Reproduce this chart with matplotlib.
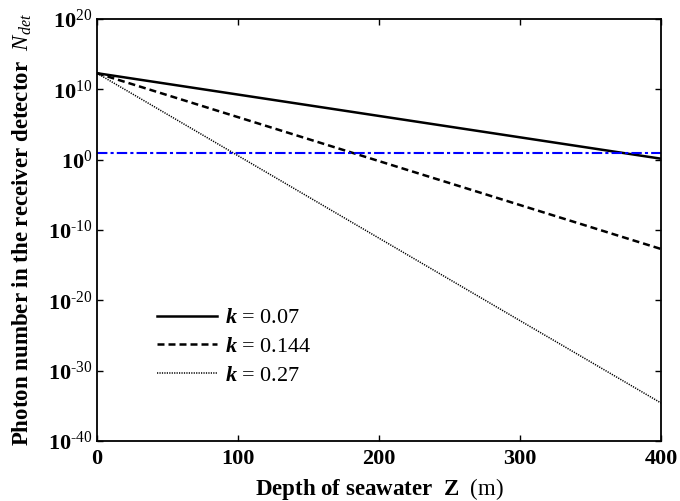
import matplotlib
matplotlib.use("Agg")
import matplotlib.pyplot as plt
from matplotlib.ticker import FixedLocator, FuncFormatter, NullLocator
import numpy as np

plt.rcParams['font.family'] = ['Liberation Serif', 'DejaVu Serif']
plt.rcParams['mathtext.fontset'] = 'custom'
plt.rcParams['mathtext.rm'] = 'Liberation Serif'
plt.rcParams['mathtext.it'] = 'Liberation Serif:italic'
plt.rcParams['mathtext.bf'] = 'Liberation Serif:bold'
plt.rcParams['mathtext.bfit'] = 'Liberation Serif:bold:italic'

# Data (depth in m, log10 of photon number)
depth = [0, 100, 200, 300, 400]
log_n_k007 = [12.3, 9.26, 6.22, 3.18, 0.14]
log_n_k0144 = [12.3, 6.05, -0.2, -6.45, -12.7]
log_n_k027 = [12.3, 0.57, -11.16, -22.89, -34.6]
threshold_log = 1.0
k_labels = ['0.07', '0.144', '0.27']

fig = plt.figure(figsize=(6.8, 5.01), dpi=100)
ax = fig.add_axes([0.1426, 0.1198, 0.9721 - 0.1426, 0.962 - 0.1198])

series = [log_n_k007, log_n_k0144, log_n_k027]
styles = [dict(ls='-', lw=1.8), dict(ls=(0, (2.8, 1.6)), lw=1.8), dict(ls=(0, (0.8, 0.8)), lw=1.1)]
for vals, st, kl in zip(series, styles, k_labels):
    ax.plot(depth, 10.0 ** np.array(vals), color='black',
            label=r'$\mathbfit{k}$ = ' + kl, **st)

ax.axhline(10.0 ** threshold_log, color='#0000ff', lw=1.5, ls=(0, (5, 1.5, 1.5, 1.5)))

ax.set_yscale('log')
ax.set_xlim(0, 400)
ax.set_ylim(1e-40, 1e20)
ax.xaxis.set_major_locator(FixedLocator([0, 100, 200, 300, 400]))
ax.yaxis.set_major_locator(FixedLocator([10.0 ** e for e in range(-40, 21, 10)]))
ax.yaxis.set_minor_locator(NullLocator())
ax.yaxis.set_major_formatter(FuncFormatter(
    lambda v, p: r'$\mathbf{10}^{\text{%d}}$' % int(round(np.log10(v)))))
ax.xaxis.set_major_formatter(FuncFormatter(lambda v, p: '%d' % v))

ax.tick_params(direction='in', top=True, right=True, length=4, width=1.0, labelsize=16)
ax.tick_params(axis='y', pad=3)
ax.tick_params(axis='x', pad=6)
for lab in ax.get_xticklabels():
    lab.set_fontweight('bold')
for sp in ax.spines.values():
    sp.set_linewidth(1.3)

ax.set_xlabel(r'Depth of seawater  $\mathbf{Z}$  $\mathrm{(m)}$', fontsize=16.5, fontweight='bold', labelpad=5)
ax.set_ylabel(r'Photon number in the receiver detector  $\mathit{N}_{\mathit{det}}$', fontsize=16.5, fontweight='bold', labelpad=10)

leg = ax.legend(loc='lower left', bbox_to_anchor=(0.071, 0.083), frameon=False, fontsize=16,
                handlelength=2.7, handletextpad=0.36, labelspacing=0.37)

fig.savefig('out.png', dpi=100)
